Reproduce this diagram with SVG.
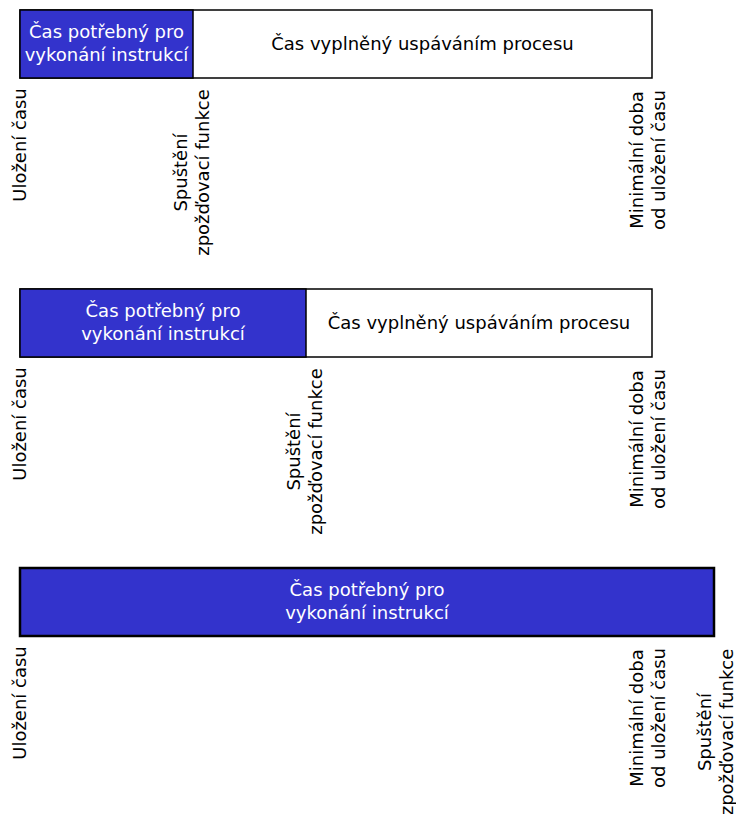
<svg xmlns="http://www.w3.org/2000/svg" width="736" height="814" viewBox="0 0 736 814">
<style>
text{font-family:"DejaVu Sans","Verdana",sans-serif;font-size:18px;}
.w{fill:#ffffff;}
.k{fill:#000000;}
.m{text-anchor:middle;}
.blue{fill:#3333cc;stroke:#000;stroke-width:1.5;}
.white{fill:#ffffff;stroke:#000;stroke-width:1.5;}
.blue3{fill:#3333cc;stroke:#000;stroke-width:2.5;}
</style>
<rect width="736" height="814" fill="#ffffff"/>
<g id="row1">
  <rect class="white" x="20" y="10" width="632" height="68"/>
  <rect class="blue" x="20" y="10" width="173" height="68"/>
  <text class="w m" x="106.5" y="38">Čas potřebný pro</text>
  <text class="w m" x="106.5" y="61">vykonání instrukcí</text>
  <text class="k m" x="422.5" y="50">Čas vyplněný uspáváním procesu</text>
  <text class="k m" transform="translate(26,145) rotate(-90)">Uložení času</text>
  <text class="k m" transform="translate(187,172.5) rotate(-90)"><tspan x="0" y="0">Spuštění</tspan><tspan x="0" y="22">zpožďovací funkce</tspan></text>
  <text class="k m" transform="translate(643,160) rotate(-90)"><tspan x="0" y="0">Minimální doba</tspan><tspan x="0" y="22">od uložení času</tspan></text>
</g>
<g id="row2">
  <rect class="white" x="20" y="289" width="632" height="68"/>
  <rect class="blue" x="20" y="289" width="286" height="68"/>
  <text class="w m" x="163" y="317">Čas potřebný pro</text>
  <text class="w m" x="163" y="340">vykonání instrukcí</text>
  <text class="k m" x="479" y="329">Čas vyplněný uspáváním procesu</text>
  <text class="k m" transform="translate(26,424) rotate(-90)">Uložení času</text>
  <text class="k m" transform="translate(300,451.5) rotate(-90)"><tspan x="0" y="0">Spuštění</tspan><tspan x="0" y="22">zpožďovací funkce</tspan></text>
  <text class="k m" transform="translate(643,439) rotate(-90)"><tspan x="0" y="0">Minimální doba</tspan><tspan x="0" y="22">od uložení času</tspan></text>
</g>
<g id="row3">
  <rect class="blue3" x="20" y="568" width="694" height="68"/>
  <text class="w m" x="367" y="596">Čas potřebný pro</text>
  <text class="w m" x="367" y="619">vykonání instrukcí</text>
  <text class="k m" transform="translate(26,703) rotate(-90)">Uložení času</text>
  <text class="k m" transform="translate(643,718) rotate(-90)"><tspan x="0" y="0">Minimální doba</tspan><tspan x="0" y="22">od uložení času</tspan></text>
  <text class="k m" transform="translate(711,732) rotate(-90)"><tspan x="0" y="0">Spuštění</tspan><tspan x="0" y="22">zpožďovací funkce</tspan></text>
</g>
</svg>
